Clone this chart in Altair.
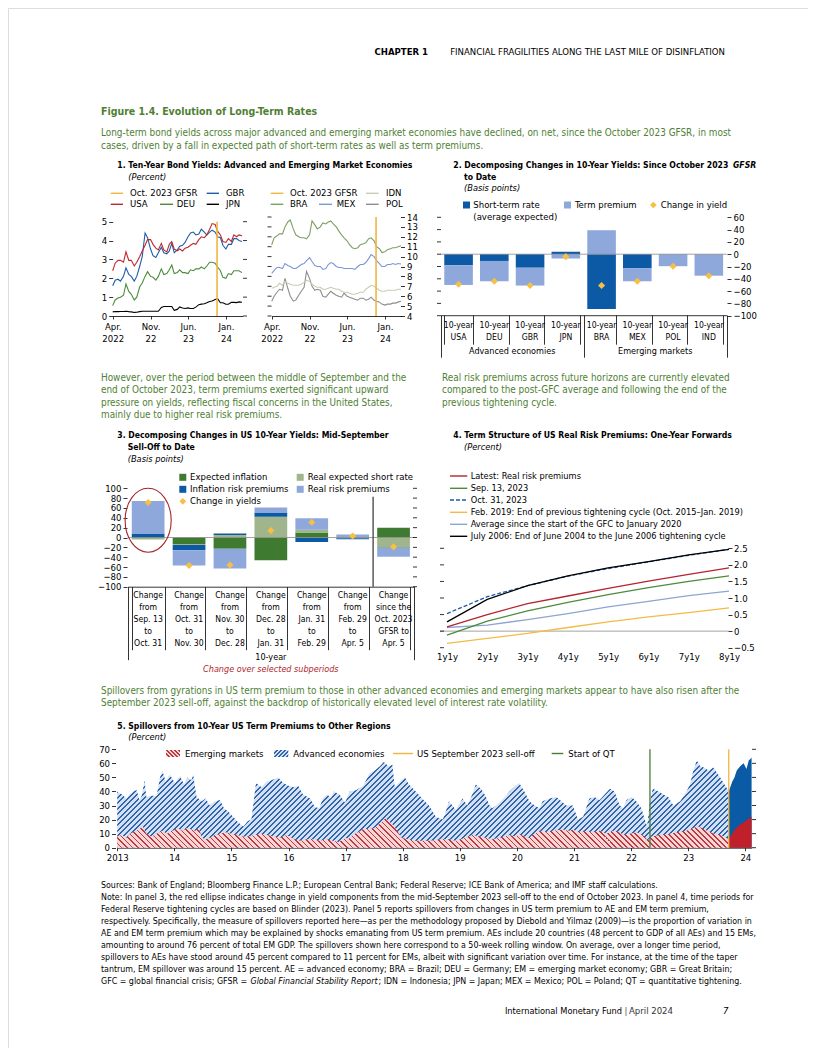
import altair as alt
import pandas as pd

W, H = 800, 1040


def cx(x):
    return x - 8


def cy(y):
    return y - 8


FONT = "DejaVu Sans Condensed, Liberation Sans Narrow, Arial Narrow, sans-serif"
BLACK = "#000000"
GREEN_TXT = "#4f7f35"
DARKBLUE = "#0c5aa6"
LIGHTBLUE = "#8fa8dc"
YELLOW = "#f5c044"
GOLD = "#f2b441"
ZERO_GREY = "#8c8c8c"
TITLE_SIZE = 8.6

# ======================= DATA =======================
# Panel 1: observation dates (1st and 15th of each month, Apr 2022 - Apr 2024)
p1_dates = []
for yr in (2022, 2023, 2024):
    for mo in range(1, 13):
        if (yr == 2022 and mo < 4) or (yr == 2024 and mo > 3):
            continue
        p1_dates += [f"{yr}-{mo:02d}-01T00:00:00", f"{yr}-{mo:02d}-15T00:00:00"]
p1_dates.append("2024-04-01T00:00:00")

usa = [2.40, 2.80, 2.95, 2.95, 2.85, 3.40, 2.95, 2.95, 2.65, 2.85, 3.15, 3.45, 3.75, 4.05, 4.05, 3.80, 3.60, 3.50,
       3.85, 3.50, 3.40, 3.80, 3.95, 3.55, 3.45, 3.55, 3.45, 3.60, 3.65, 3.75, 3.85, 3.80, 4.05, 4.20, 4.15, 4.30,
       4.60, 4.90, 4.85, 4.50, 4.30, 3.95,
       3.90, 4.10, 3.95, 4.30, 4.20, 4.30, 4.25]
gbr = [1.60, 1.90, 1.95, 1.85, 2.10, 2.55, 2.20, 2.10, 1.85, 2.10, 2.65, 3.15, 4.40, 4.15, 3.55, 3.20, 3.10, 3.35,
       3.65, 3.35, 3.30, 3.45, 3.85, 3.35, 3.50, 3.70, 3.75, 3.90, 4.20, 4.40, 4.45, 4.30, 4.35, 4.60, 4.45, 4.30,
       4.45, 4.55, 4.45, 4.20, 4.15, 3.75,
       3.55, 3.80, 3.80, 4.10, 4.10, 4.00, 3.95]
deu = [0.55, 0.85, 0.95, 1.00, 1.10, 1.70, 1.30, 1.15, 0.85, 1.00, 1.55, 1.75, 2.10, 2.35, 2.10, 2.05, 1.90, 2.10,
       2.50, 2.20, 2.25, 2.45, 2.70, 2.25, 2.30, 2.45, 2.30, 2.30, 2.25, 2.45, 2.40, 2.50, 2.50, 2.60, 2.50, 2.65,
       2.85, 2.85, 2.80, 2.60, 2.40, 2.05,
       2.00, 2.25, 2.20, 2.40, 2.40, 2.40, 2.30]
jpn = [0.22, 0.24, 0.23, 0.24, 0.24, 0.25, 0.23, 0.22, 0.19, 0.20, 0.23, 0.25, 0.25, 0.25, 0.25, 0.25, 0.25, 0.25,
       0.45, 0.50, 0.50, 0.50, 0.50, 0.30, 0.35, 0.48, 0.42, 0.40, 0.43, 0.40, 0.40, 0.47, 0.60, 0.63, 0.65, 0.70,
       0.77, 0.80, 0.88, 0.92, 0.70, 0.70,
       0.62, 0.62, 0.73, 0.72, 0.71, 0.75, 0.73]
bra = [11.2, 11.9, 12.1, 12.3, 12.3, 13.0, 13.5, 13.7, 12.8, 12.2, 12.0, 11.9, 11.9, 11.8, 12.2, 13.6, 13.2, 12.8,
       13.0, 13.4, 13.3, 13.5, 13.6, 13.3, 13.0, 12.6, 12.2, 11.9, 11.6, 11.2, 10.9, 10.8, 10.9, 11.2, 11.3, 11.4,
       11.8, 11.9, 11.6, 11.0, 10.8, 10.4,
       10.5, 10.7, 10.8, 10.9, 10.9, 11.0, 11.1]
mex = [8.3, 8.6, 8.9, 8.9, 8.8, 9.3, 9.1, 9.0, 8.8, 8.8, 9.0, 9.2, 9.3, 9.6, 9.9, 9.5, 9.1, 9.0,
       9.0, 8.7, 8.8, 9.2, 9.4, 9.3, 9.0, 8.9, 8.9, 8.8, 8.8, 8.8, 8.8, 8.7, 9.0, 9.2, 9.2, 9.4,
       9.8, 10.2, 10.0, 9.6, 9.3, 9.0,
       9.0, 9.2, 9.2, 9.3, 9.2, 9.3, 9.25]
idn = [6.8, 6.9, 7.0, 7.3, 7.1, 7.5, 7.3, 7.2, 7.1, 7.1, 7.1, 7.2, 7.4, 7.6, 7.5, 7.2, 7.0, 6.9,
       6.9, 6.7, 6.7, 6.8, 6.9, 6.8, 6.7, 6.7, 6.5, 6.4, 6.4, 6.3, 6.2, 6.2, 6.3, 6.4, 6.4, 6.7,
       6.9, 7.1, 7.0, 6.8, 6.6, 6.5,
       6.5, 6.6, 6.6, 6.6, 6.6, 6.7, 6.7]
pol = [5.5, 6.0, 6.4, 6.7, 6.6, 7.8, 6.8, 6.0, 5.5, 5.6, 6.1, 6.5, 6.9, 8.5, 7.8, 7.0, 6.6, 6.7,
       6.6, 6.0, 5.9, 6.2, 6.5, 6.3, 6.1, 6.0, 5.9, 6.3, 6.0, 5.9, 5.8, 5.7, 5.6, 5.8, 5.8, 5.6,
       5.7, 5.9, 5.6, 5.5, 5.4, 5.2,
       5.1, 5.2, 5.2, 5.3, 5.3, 5.4, 5.5]
gfsr_date = "2023-11-12T00:00:00"

# Panel 2
cats2 = ["USA", "DEU", "GBR", "JPN", "BRA", "MEX", "POL", "IND"]
short2 = [-18, -11, -22, 4, -89, -23, 0, 0]
term2 = [-32, -33, -29, -7, 39, -21, -19.5, -35]
chg2 = [-49, -44, -51, -4, -51, -44, -19.5, -35]
groups2 = ["Advanced economies", "Emerging markets"]
ticks2 = [-100, -80, -60, -40, -20, 0, 20, 40, 60]

# Panel 3
cats3 = ["Change|from|Sep. 13|to|Oct. 31", "Change|from|Oct. 31|to|Nov. 30", "Change|from|Nov. 30|to|Dec. 28",
         "Change|from|Dec. 28|to|Jan. 31", "Change|from|Jan. 31|to|Feb. 29", "Change|from|Feb. 29|to|Apr. 5",
         "Change|since the|Oct. 2023|GFSR to|Apr. 5"]
comp3 = ["Expected inflation", "Real expected short rate", "Inflation risk premiums", "Real risk premiums"]
exp_infl = [-1, -13, -23, -46, 10, 1, 20]
real_short = [-3, -2, 5, 42, 6, -1.5, -21]
infl_risk = [8, -11, 3, 9, -9, -2, -1.5]
real_risk = [66, -31, -40, 10, 23, 5, -16.5]
chg3 = [71, -57, -56, 14, 31, 3, -19]
ticks3 = [-100, -80, -60, -40, -20, 0, 20, 40, 60, 80, 100]

# Panel 4
hor4 = ["1y1y", "2y1y", "3y1y", "4y1y", "5y1y", "6y1y", "7y1y", "8y1y"]
latest4 = [0.13, 0.50, 0.83, 1.06, 1.29, 1.51, 1.71, 1.91]
sep13_4 = [-0.12, 0.30, 0.61, 0.87, 1.10, 1.31, 1.50, 1.67]
oct31_4 = [0.53, 1.04, 1.37, 1.66, 1.89, 2.09, 2.29, 2.47]
feb2019_4 = [-0.37, -0.22, -0.07, 0.11, 0.28, 0.43, 0.56, 0.70]
avg_gfc4 = [0.11, 0.18, 0.35, 0.53, 0.73, 0.90, 1.07, 1.21]
jul2006_4 = [0.28, 0.96, 1.37, 1.67, 1.91, 2.10, 2.30, 2.47]
ticks4 = [-0.5, 0, 0.5, 1.0, 1.5, 2.0, 2.5]

# Panel 5 (decimal year, percent)
ae_pts = [(2013.00, 40), (2013.08, 38), (2013.16, 35), (2013.22, 38), (2013.28, 40), (2013.34, 41), (2013.39, 34),
          (2013.43, 37), (2013.48, 48), (2013.51, 36), (2013.60, 37), (2013.69, 37), (2013.75, 50), (2013.79, 55),
          (2013.85, 47), (2013.92, 52), (2014.01, 46), (2014.10, 51), (2014.17, 45), (2014.23, 50), (2014.30, 48),
          (2014.33, 52), (2014.39, 36), (2014.48, 33), (2014.55, 35), (2014.62, 30), (2014.71, 33), (2014.80, 34),
          (2014.87, 28), (2014.94, 26), (2015.03, 22), (2015.12, 18), (2015.21, 15), (2015.29, 19), (2015.35, 20),
          (2015.43, 46), (2015.53, 43), (2015.62, 47), (2015.70, 48), (2015.82, 50), (2015.91, 46), (2016.00, 44),
          (2016.09, 43), (2016.17, 44), (2016.25, 38), (2016.38, 35), (2016.46, 29), (2016.54, 28), (2016.60, 35),
          (2016.68, 38), (2016.74, 35), (2016.79, 40), (2016.89, 38), (2016.99, 32), (2017.07, 40), (2017.19, 41),
          (2017.31, 44), (2017.42, 53), (2017.51, 55), (2017.60, 58), (2017.67, 61), (2017.75, 58), (2017.82, 59),
          (2017.86, 43), (2017.95, 47), (2018.04, 50), (2018.11, 45), (2018.23, 40), (2018.34, 35), (2018.46, 30),
          (2018.58, 22), (2018.70, 20), (2018.75, 25), (2018.81, 33), (2018.87, 30), (2018.93, 27), (2019.05, 35),
          (2019.13, 30), (2019.22, 38), (2019.28, 45), (2019.37, 42), (2019.45, 37), (2019.52, 30), (2019.57, 28),
          (2019.64, 30), (2019.72, 33), (2019.81, 37), (2019.87, 40), (2019.98, 44), (2020.04, 46), (2020.13, 40),
          (2020.22, 33), (2020.31, 30), (2020.40, 28), (2020.45, 33), (2020.57, 35), (2020.69, 36), (2020.78, 33),
          (2020.86, 30), (2020.98, 30), (2021.07, 20), (2021.16, 22), (2021.27, 35), (2021.36, 36), (2021.45, 34),
          (2021.54, 38), (2021.63, 42), (2021.71, 40), (2021.80, 30), (2021.86, 28), (2021.92, 34), (2022.01, 36),
          (2022.09, 33), (2022.18, 28), (2022.24, 20), (2022.28, 15), (2022.33, 33), (2022.38, 42), (2022.48, 40),
          (2022.56, 38), (2022.65, 36), (2022.74, 30), (2022.86, 33), (2022.97, 40), (2023.03, 45), (2023.09, 55),
          (2023.15, 62), (2023.21, 58), (2023.27, 57), (2023.36, 55), (2023.44, 57), (2023.56, 50), (2023.65, 44),
          (2023.71, 40), (2023.77, 47), (2023.81, 50), (2023.85, 55), (2023.91, 58), (2023.97, 60), (2024.02, 56),
          (2024.06, 62), (2024.11, 64)]
em_pts = [(2013.00, 8), (2013.08, 9), (2013.16, 7), (2013.22, 10), (2013.34, 12), (2013.45, 15), (2013.51, 10),
          (2013.60, 8), (2013.69, 10), (2013.79, 12), (2013.87, 10), (2013.97, 12), (2014.06, 14), (2014.14, 12),
          (2014.22, 14), (2014.30, 13), (2014.37, 12), (2014.43, 14), (2014.48, 7), (2014.55, 6), (2014.62, 7),
          (2014.71, 9), (2014.80, 10), (2014.90, 11), (2015.00, 10), (2015.10, 9), (2015.20, 8), (2015.30, 8),
          (2015.40, 9), (2015.52, 10), (2015.62, 9), (2015.75, 8), (2015.85, 7), (2015.97, 9), (2016.10, 6),
          (2016.20, 5), (2016.32, 6), (2016.45, 6), (2016.55, 5), (2016.65, 6), (2016.78, 5), (2016.88, 4),
          (2017.00, 7), (2017.05, 6), (2017.12, 9), (2017.27, 12), (2017.32, 14), (2017.40, 13), (2017.50, 14),
          (2017.60, 17), (2017.70, 21), (2017.78, 18), (2017.84, 16), (2017.98, 7), (2018.10, 6), (2018.23, 5),
          (2018.46, 5), (2018.70, 6), (2018.80, 6), (2018.93, 5), (2019.10, 7), (2019.22, 9), (2019.35, 8),
          (2019.45, 7), (2019.57, 6), (2019.69, 7), (2019.87, 9), (2019.98, 8), (2020.04, 10), (2020.13, 8),
          (2020.22, 7), (2020.27, 9), (2020.40, 12), (2020.51, 11), (2020.63, 12), (2020.81, 13), (2020.92, 12),
          (2020.98, 13), (2021.07, 11), (2021.16, 12), (2021.33, 11), (2021.45, 12), (2021.57, 10), (2021.68, 12),
          (2021.80, 11), (2021.86, 9), (2021.98, 10), (2022.10, 11), (2022.24, 8), (2022.28, 5), (2022.36, 8),
          (2022.50, 9), (2022.68, 10), (2022.80, 11), (2022.97, 12), (2023.09, 14), (2023.18, 15), (2023.33, 12),
          (2023.45, 10), (2023.56, 9), (2023.67, 7), (2023.71, 6), (2023.74, 8), (2023.80, 12), (2023.89, 16),
          (2023.97, 18), (2024.04, 20), (2024.11, 22)]
SELLOFF = 2023.71
QT_START = 2022.33
years5 = list(range(2013, 2025))
ticks5 = [0, 10, 20, 30, 40, 50, 60, 70]

# ======================= HELPERS =======================
layers = []


def txt(t, x, y, size=9.5, weight="normal", style="normal", color=BLACK, align="left", font=FONT):
    return alt.Chart(pd.DataFrame({"t": [t]})).mark_text(
        align=align, baseline="middle", fontSize=size, fontWeight=weight, fontStyle=style,
        color=color, font=font).encode(x=alt.value(cx(x)), y=alt.value(cy(y)), text="t:N")


def para(lines, x, y0, dy, **kw):
    for i, line in enumerate(lines):
        layers.append(txt(line, x, y0 + i * dy, **kw))


def leg_line(x0, x1, y, color, dash=None, width=1.4):
    mk = dict(color=color, strokeWidth=width)
    if dash:
        mk["strokeDash"] = dash
    return alt.Chart(pd.DataFrame({"a": [0]})).mark_rule(**mk).encode(
        x=alt.value(cx(x0)), x2=alt.value(cx(x1)), y=alt.value(cy(y)))


def leg_rect(x0, x1, y0, y1, color):
    return alt.Chart(pd.DataFrame({"a": [0]})).mark_rect(color=color).encode(
        x=alt.value(cx(x0)), x2=alt.value(cx(x1)), y=alt.value(cy(y0)), y2=alt.value(cy(y1)))


def leg_diamond(x, y, color, size=45):
    return alt.Chart(pd.DataFrame({"a": [0]})).mark_point(
        shape="diamond", filled=True, color=color, size=size, opacity=1).encode(
        x=alt.value(cx(x)), y=alt.value(cy(y)))


def ax(**kw):
    base = dict(title=None, grid=False, labelFont=FONT, labelFontSize=9.5, labelColor=BLACK,
                tickColor=BLACK, domainColor=BLACK, tickWidth=0.8, domainWidth=0.8, labelPadding=2,
                labelFlush=False, labelOverlap=False, labelBound=False, labelAngle=0)
    base.update(kw)
    return alt.Axis(**base)


def mirror_ticks(vals, yscale, x0, x1):
    return alt.Chart(pd.DataFrame({"v": vals})).mark_rule(color=BLACK, strokeWidth=0.8).encode(
        y=alt.Y("v:Q", scale=yscale, axis=None), x=alt.value(cx(x0)), x2=alt.value(cx(x1)))


def hzero(yscale, x0, x1, color=ZERO_GREY):
    return alt.Chart(pd.DataFrame({"v": [0]})).mark_rule(color=color, strokeWidth=0.8).encode(
        y=alt.Y("v:Q", scale=yscale, axis=None), x=alt.value(cx(x0)), x2=alt.value(cx(x1)))


def hatch(w_px, h_px, light, dark, rising=True, period=5.5, frac_dark=0.36):
    """Diagonal hatch fill built as a hard-stop linear gradient over the mark's bounding box."""
    r = h_px / w_px
    k = 1 + r
    tp = period / (w_px * k * (1 + r * r))
    stops = []
    o = 0.0
    while o < 1.0:
        a = round(min(o + tp * (1 - frac_dark), 1.0), 6)
        b = round(min(o + tp, 1.0), 6)
        stops += [alt.GradientStop(color=light, offset=round(o, 6)), alt.GradientStop(color=light, offset=a),
                  alt.GradientStop(color=dark, offset=a), alt.GradientStop(color=dark, offset=b)]
        o = b
    if rising:
        return alt.LinearGradient(gradient="linear", stops=stops, x1=0, y1=0, x2=k, y2=k * r)
    return alt.LinearGradient(gradient="linear", stops=stops, x1=0, y1=1, x2=k, y2=1 - k * r)


# ======================= HEADER / TEXT =======================
layers.append(txt("CHAPTER 1", 428, 52, size=9.5, weight="bold", align="right"))
layers.append(txt("FINANCIAL FRAGILITIES ALONG THE LAST MILE OF DISINFLATION", 725, 52, size=9.5, align="right"))
layers.append(txt("Figure 1.4. Evolution of Long-Term Rates", 101, 111.5, size=10.5, weight="bold", color=GREEN_TXT))
para(["Long-term bond yields across major advanced and emerging market economies have declined, on net, since the October 2023 GFSR, in most",
      "cases, driven by a fall in expected path of short-term rates as well as term premiums."],
     101, 133, 13, size=9.9, color=GREEN_TXT)
para(["However, over the period between the middle of September and the",
      "end of October 2023, term premiums exerted significant upward",
      "pressure on yields, reflecting fiscal concerns in the United States,",
      "mainly due to higher real risk premiums."], 101, 377.5, 12.5, size=9.9, color=GREEN_TXT)
para(["Real risk premiums across future horizons are currently elevated",
      "compared to the post-GFC average and following the end of the",
      "previous tightening cycle."], 442, 377.5, 12.5, size=9.9, color=GREEN_TXT)
para(["Spillovers from gyrations in US term premium to those in other advanced economies and emerging markets appear to have also risen after the",
      "September 2023 sell-off, against the backdrop of historically elevated level of interest rate volatility."],
     101, 690.5, 12.5, size=9.9, color=GREEN_TXT)

notes = ["Sources: Bank of England; Bloomberg Finance L.P.; European Central Bank; Federal Reserve; ICE Bank of America; and IMF staff calculations.",
         "Note: In panel 3, the red ellipse indicates change in yield components from the mid-September 2023 sell-off to the end of October 2023. In panel 4, time periods for",
         "Federal Reserve tightening cycles are based on Blinder (2023). Panel 5 reports spillovers from changes in US term premium to AE and EM term premium,",
         "respectively. Specifically, the measure of spillovers reported here\u2014as per the methodology proposed by Diebold and Yilmaz (2009)\u2014is the proportion of variation in",
         "AE and EM term premium which may be explained by shocks emanating from US term premium. AEs include 20 countries (48 percent to GDP of all AEs) and 15 EMs,",
         "amounting to around 76 percent of total EM GDP. The spillovers shown here correspond to a 50-week rolling window. On average, over a longer time period,",
         "spillovers to AEs have stood around 45 percent compared to 11 percent for EMs, albeit with significant variation over time. For instance, at the time of the taper",
         "tantrum, EM spillover was around 15 percent. AE = advanced economy; BRA = Brazil; DEU = Germany; EM = emerging market economy; GBR = Great Britain;"]
para(notes, 101, 884.5, 12, size=8.8)
layers.append(txt("GFC = global financial crisis; GFSR = ", 101, 980.5, size=8.8))
layers.append(txt("Global Financial Stability Report", 250.5, 980.5, size=8.8, style="italic"))
layers.append(txt("; IDN = Indonesia; JPN = Japan; MEX = Mexico; POL = Poland; QT = quantitative tightening.", 378.5, 980.5, size=8.8))

layers.append(txt("International Monetary Fund", 622, 1011, size=9.2, align="right"))
layers.append(txt("|", 624.5, 1011, size=9.5, color="#555555"))
layers.append(txt("April 2024", 629, 1011, size=9.5, color="#333333"))
layers.append(txt("7", 723, 1011, size=9.5, style="italic"))

# ======================= PANEL 1 =======================
layers.append(txt("1. Ten-Year Bond Yields: Advanced and Emerging Market Economies", 117.3, 165, size=TITLE_SIZE, weight="bold"))
layers.append(txt("(Percent)", 128.3, 176.5, size=9.2, style="italic"))

C_USA, C_GBR, C_DEU, C_JPN = "#c1272d", "#1d5ea8", "#4b8b3b", "#000000"
C_BRA, C_MEX, C_IDN, C_POL = "#7f9f63", "#7b97d6", "#c5ceb3", "#8e8e8e"

# legends
for (x0, x1, y, col, lab, tx) in [
        (110.7, 123, 193.3, GOLD, "Oct. 2023 GFSR", 130), (206.7, 219, 193.3, C_GBR, "GBR", 226),
        (110.7, 123, 204.3, C_USA, "USA", 130), (160, 173, 204.3, C_DEU, "DEU", 176.7),
        (206.7, 219, 204.3, C_JPN, "JPN", 226),
        (270.7, 283.3, 193.3, GOLD, "Oct. 2023 GFSR", 290), (366, 378.7, 193.3, C_IDN, "IDN", 386),
        (270.7, 283.3, 204.3, C_BRA, "BRA", 290), (319, 332, 204.3, C_MEX, "MEX", 336.7),
        (366, 378.7, 204.3, C_POL, "POL", 386)]:
    layers.append(leg_line(x0, x1, y, col))
    layers.append(txt(lab, tx, y, size=9.5))


def dt(y, m, d):
    return alt.DateTime(year=y, month=m, date=d)


xdom1 = [dt(2022, 4, 1), dt(2024, 4, 5)]
mticks = [dt(2022, 4, 1), dt(2022, 11, 1), dt(2023, 6, 1), dt(2024, 1, 1)]
LBL1 = ("[timeFormat(datum.value, '%b') + '.', (year(datum.value) == 2022 && month(datum.value) == 3) "
        "? '2022' : timeFormat(datum.value, '%y')]")

for (xr, yscale, series, vals, cols, yaxis, mt, tvals) in [
    ([112.7, 242.7], alt.Scale(domain=[0, 5], range=[cy(316), cy(221.7)], nice=False, zero=False),
     ["JPN", "DEU", "GBR", "USA"], {"USA": usa, "GBR": gbr, "DEU": deu, "JPN": jpn},
     {"USA": C_USA, "GBR": C_GBR, "DEU": C_DEU, "JPN": C_JPN},
     ax(orient="left", offset=-cx(112.7), values=[0, 1, 2, 3, 4, 5], tickSize=4, domain=False, format="d"),
     (243, 247), [0, 1, 2, 3, 4, 5]),
    ([271.7, 401.7], alt.Scale(domain=[4, 14], range=[cy(316), cy(217)], nice=False, zero=False),
     ["POL", "IDN", "MEX", "BRA"], {"BRA": bra, "MEX": mex, "IDN": idn, "POL": pol},
     {"BRA": C_BRA, "MEX": C_MEX, "IDN": C_IDN, "POL": C_POL},
     ax(orient="right", offset=cx(400.5) - W, values=list(range(4, 15)), tickSize=4, domain=False, format="d"),
     (267.5, 271.5), list(range(4, 15))),
]:
    xscale = alt.Scale(type="time", domain=xdom1, range=[cx(xr[0]), cx(xr[1])], nice=False)
    df = pd.DataFrame([{"date": d, "series": s, "value": v}
                       for s in series for d, v in zip(p1_dates, vals[s])])
    layers.append(alt.Chart(df).mark_line(strokeWidth=1.1).encode(
        x=alt.X("date:T", scale=xscale,
                axis=ax(orient="bottom", offset=cy(316) - H, values=mticks, labelExpr=LBL1,
                        tickSize=3, labelLineHeight=12.5, labelPadding=2)),
        y=alt.Y("value:Q", scale=yscale, axis=yaxis),
        color=alt.Color("series:N", scale=alt.Scale(domain=series, range=[cols[s] for s in series]), legend=None),
        detail="series:N"))
    layers.append(alt.Chart(pd.DataFrame({"d": [gfsr_date], "y0": [tvals[0]], "y1": [tvals[-1]]}))
                  .mark_rule(color=GOLD, strokeWidth=1.6).encode(
        x=alt.X("d:T", scale=xscale, axis=None), y=alt.Y("y0:Q", scale=yscale, axis=None), y2="y1:Q"))
    layers.append(mirror_ticks(tvals, yscale, mt[0], mt[1]))

# ======================= PANEL 2 =======================
layers.append(txt("2. Decomposing Changes in 10-Year Yields: Since October 2023", 453.3, 165, size=TITLE_SIZE, weight="bold"))
layers.append(txt("GFSR", 733, 165, size=TITLE_SIZE, weight="bold", style="italic"))
layers.append(txt("to Date", 464, 176.5, size=TITLE_SIZE, weight="bold"))
layers.append(txt("(Basis points)", 464, 188.3, size=9.2, style="italic"))
layers.append(leg_rect(463, 470, 201.5, 208.5, DARKBLUE))
layers.append(txt("Short-term rate", 473.3, 205, size=9.5))
layers.append(txt("(average expected)", 473.3, 217.3, size=9.5))
layers.append(leg_rect(564, 571, 201.5, 208.5, LIGHTBLUE))
layers.append(txt("Term premium", 575, 205, size=9.5))
layers.append(leg_diamond(653.3, 205, YELLOW))
layers.append(txt("Change in yield", 660.7, 205, size=9.5))

xs2 = alt.Scale(type="band", domain=cats2, range=[cx(440.7), cx(726.7)], paddingInner=0.2, paddingOuter=0.1)
ys2 = alt.Scale(domain=[-100, 60], range=[cy(315.7), cy(217.3)], nice=False, zero=False)
AX2_Y = cy(315.2) - H
df2 = pd.DataFrame({"cat": cats2 * 2, "comp": ["Short-term rate"] * 8 + ["Term premium"] * 8,
                    "value": short2 + term2, "ord": [1] * 8 + [2] * 8})
layers.append(alt.Chart(df2).mark_bar().encode(
    x=alt.X("cat:N", scale=xs2, axis=ax(orient="bottom", offset=AX2_Y, tickBand="extent", tickSize=29,
                                        labels=False, domain=True)),
    y=alt.Y("value:Q", scale=ys2, stack="zero",
            axis=ax(orient="right", offset=cx(727) - W, values=ticks2, tickSize=4, domain=False)),
    color=alt.Color("comp:N", scale=alt.Scale(domain=["Short-term rate", "Term premium"],
                                              range=[DARKBLUE, LIGHTBLUE]), legend=None),
    order=alt.Order("ord:Q")))
layers.append(hzero(ys2, 440.7, 726.7))
layers.append(alt.Chart(pd.DataFrame({"cat": cats2, "chg": chg2})).mark_point(
    shape="diamond", filled=True, size=50, color=YELLOW, opacity=1).encode(
    x=alt.X("cat:N", scale=xs2, axis=ax(orient="bottom", offset=AX2_Y, ticks=False, domain=False,
                                        labelPadding=5, labelExpr="['10-year', datum.label]",
                                        labelLineHeight=12.6, labelFontSize=8.6)),
    y=alt.Y("chg:Q", scale=ys2, axis=None)))
gs2 = alt.Scale(type="band", domain=groups2, range=[cx(440.7), cx(726.7)], paddingInner=0, paddingOuter=0)
layers.append(alt.Chart(pd.DataFrame({"g": groups2})).mark_text(font=FONT, fontSize=9, baseline="middle").encode(
    x=alt.X("g:N", scale=gs2, axis=ax(orient="bottom", offset=AX2_Y, tickBand="extent", tickSize=42,
                                      labels=False, domain=False)),
    y=alt.value(cy(350.5)), text="g:N"))
layers.append(mirror_ticks(ticks2, ys2, 437, 441))

# ======================= PANEL 3 =======================
layers.append(txt("3. Decomposing Changes in US 10-Year Yields: Mid-September", 117.3, 435.3, size=TITLE_SIZE, weight="bold"))
layers.append(txt("Sell-Off to Date", 127.7, 446.7, size=TITLE_SIZE, weight="bold"))
layers.append(txt("(Basis points)", 127.7, 459.3, size=9.2, style="italic"))
C3 = ["#3e7a30", "#a0b58c", DARKBLUE, LIGHTBLUE]
layers.append(leg_rect(179.3, 186.3, 473.8, 480.8, C3[0]))
layers.append(txt("Expected inflation", 190, 477.3))
layers.append(leg_rect(179.3, 186.3, 485.8, 492.8, C3[2]))
layers.append(txt("Inflation risk premiums", 190, 489.3))
layers.append(leg_diamond(182.8, 501.3, YELLOW))
layers.append(txt("Change in yields", 190, 501.3))
layers.append(leg_rect(296.7, 303.7, 473.8, 480.8, C3[1]))
layers.append(txt("Real expected short rate", 307.7, 477.3))
layers.append(leg_rect(296.7, 303.7, 485.8, 492.8, C3[3]))
layers.append(txt("Real risk premiums", 307.7, 489.3))

xs3 = alt.Scale(type="band", domain=cats3, range=[cx(127.7), cx(414)], paddingInner=0.2, paddingOuter=0.1)
ys3 = alt.Scale(domain=[-100, 100], range=[cy(586.7), cy(488.3)], nice=False, zero=False)
AX3_Y = cy(586.7) - H
rows3 = []
for k, (name, vals) in enumerate(zip(comp3, [exp_infl, real_short, infl_risk, real_risk])):
    for c, v in zip(cats3, vals):
        rows3.append({"cat": c, "comp": name, "value": v, "ord": k})
layers.append(alt.Chart(pd.DataFrame(rows3)).mark_bar().encode(
    x=alt.X("cat:N", scale=xs3, axis=ax(orient="bottom", offset=AX3_Y, tickBand="extent", tickSize=63,
                                        labels=False, domain=True)),
    y=alt.Y("value:Q", scale=ys3, stack="zero",
            axis=ax(orient="left", offset=-cx(127), values=ticks3, tickSize=4, domain=False)),
    color=alt.Color("comp:N", scale=alt.Scale(domain=comp3, range=C3), legend=None),
    order=alt.Order("ord:Q")))
layers.append(hzero(ys3, 127.7, 414))
layers.append(alt.Chart(pd.DataFrame({"cat": cats3, "chg": chg3})).mark_point(
    shape="diamond", filled=True, size=50, color=YELLOW, opacity=1).encode(
    x=alt.X("cat:N", scale=xs3, axis=ax(orient="bottom", offset=AX3_Y, ticks=False, domain=False,
                                        labelPadding=4, labelExpr="split(datum.label, '|')",
                                        labelLineHeight=12, labelFontSize=8.6)),
    y=alt.Y("chg:Q", scale=ys3, axis=None)))
xs3n = alt.Scale(type="band", domain=cats3, range=[cx(127.7), cx(414)], paddingInner=0, paddingOuter=0)
layers.append(alt.Chart(pd.DataFrame({"cat": [cats3[6]], "y0": [83], "y1": [-100]})).mark_rule(
    color="#333333", strokeWidth=1.2).encode(
    x=alt.X("cat:N", scale=xs3n, bandPosition=0, axis=None),
    y=alt.Y("y0:Q", scale=ys3, axis=None), y2="y1:Q"))
gs3 = alt.Scale(type="band", domain=["10-year"], range=[cx(127.7), cx(414)], paddingInner=0, paddingOuter=0)
layers.append(alt.Chart(pd.DataFrame({"g": ["10-year"]})).mark_text(font=FONT, fontSize=9, baseline="middle").encode(
    x=alt.X("g:N", scale=gs3, axis=ax(orient="bottom", offset=AX3_Y, tickBand="extent", tickSize=73,
                                      labels=False, domain=False)),
    y=alt.value(cy(657.3)), text="g:N"))
layers.append(alt.Chart(pd.DataFrame({"g": ["10-year"], "t": ["Change over selected subperiods"]})).mark_text(
    font=FONT, fontSize=9, fontStyle="italic", color="#b0282e", baseline="middle").encode(
    x=alt.X("g:N", scale=gs3, axis=None), y=alt.value(cy(668.5)), text="t:N"))
layers.append(mirror_ticks(ticks3, ys3, 413, 417))
ELLIPSE = "M -0.72 0 A 0.72 1 0 1 0 0.72 0 A 0.72 1 0 1 0 -0.72 0 Z"
layers.append(alt.Chart(pd.DataFrame({"cat": [cats3[0]], "v": [35]})).mark_point(
    shape=ELLIPSE, size=4096, filled=False, color="#a3262a", strokeWidth=1.1, opacity=1).encode(
    x=alt.X("cat:N", scale=xs3, axis=None), y=alt.Y("v:Q", scale=ys3, axis=None)))

# ======================= PANEL 4 =======================
layers.append(txt("4. Term Structure of US Real Risk Premiums: One-Year Forwards", 453.3, 435.3, size=TITLE_SIZE, weight="bold"))
layers.append(txt("(Percent)", 464, 447.3, size=9.2, style="italic"))
C4 = {"Latest: Real risk premiums": "#b5232f", "Sep. 13, 2023": "#4b8b3b", "Oct. 31, 2023": "#1f5aa6",
      "Feb. 2019: End of previous tightening cycle (Oct. 2015\u2013Jan. 2019)": "#f3bb45",
      "Average since the start of the GFC to January 2020": "#8ea4d2",
      "July 2006: End of June 2004 to the June 2006 tightening cycle": "#000000"}
leg_y4 = [476, 488.3, 500, 512.3, 524.3, 536.3]
for (name, col), yy in zip(C4.items(), leg_y4):
    layers.append(leg_line(450, 467.3, yy, col, dash=[4, 2] if name.startswith("Oct.") else None))
    layers.append(txt(name, 470.7, yy, size=9.2))

xs4 = alt.Scale(type="point", domain=hor4, range=[cx(447), cx(729)], padding=0)
ys4 = alt.Scale(domain=[-0.5, 2.5], range=[cy(647.7), cy(548.3)], nice=False, zero=False)
layers.append(hzero(ys4, 440, 729))
df4d = pd.DataFrame({"h": hor4, "v": oct31_4})
layers.append(alt.Chart(df4d).mark_line(color=C4["Oct. 31, 2023"], strokeWidth=1.3, strokeDash=[4, 2]).encode(
    x=alt.X("h:N", scale=xs4, axis=ax(orient="bottom", offset=cy(647.7) - H, ticks=False, domain=False,
                                      labelPadding=4)),
    y=alt.Y("v:Q", scale=ys4, axis=ax(orient="right", offset=cx(728) - W, values=ticks4, tickSize=4,
                                      domain=False, labelPadding=1.5,
                                      labelExpr="datum.value == 0 ? '0' : format(datum.value, '.1f')"))))
solid4 = [("Average since the start of the GFC to January 2020", avg_gfc4),
          ("Feb. 2019: End of previous tightening cycle (Oct. 2015\u2013Jan. 2019)", feb2019_4),
          ("Sep. 13, 2023", sep13_4), ("Latest: Real risk premiums", latest4),
          ("July 2006: End of June 2004 to the June 2006 tightening cycle", jul2006_4)]
df4 = pd.DataFrame([{"h": h, "s": n, "v": v} for n, vals in solid4 for h, v in zip(hor4, vals)])
layers.append(alt.Chart(df4).mark_line(strokeWidth=1.3).encode(
    x=alt.X("h:N", scale=xs4, axis=None),
    y=alt.Y("v:Q", scale=ys4, axis=None),
    color=alt.Color("s:N", scale=alt.Scale(domain=[n for n, _ in solid4], range=[C4[n] for n, _ in solid4]),
                    legend=None),
    detail="s:N"))
layers.append(mirror_ticks(ticks4, ys4, 440, 444))

# ======================= PANEL 5 =======================
layers.append(txt("5. Spillovers from 10-Year US Term Premiums to Other Regions", 117.3, 725.5, size=TITLE_SIZE, weight="bold"))
layers.append(txt("(Percent)", 128.3, 737, size=9.2, style="italic"))
AE_LIGHT, AE_DARK, EM_LIGHT, EM_DARK = "#d3dff2", "#2f66ab", "#f7d5d5", "#bb3a41"
AE_S, EM_S = "#0a5aa5", "#c0202a"
layers.append(leg_rect(166, 180, 750, 757, hatch(14, 7, EM_LIGHT, EM_DARK, rising=False, period=4.0)))
layers.append(txt("Emerging markets", 185, 753.5))
layers.append(leg_rect(274, 288.3, 750, 757, hatch(14.3, 7, AE_LIGHT, AE_DARK, rising=True, period=4.0)))
layers.append(txt("Advanced economies", 293.3, 753.5))
layers.append(leg_line(393, 413, 753.5, GOLD))
layers.append(txt("US September 2023 sell-off", 417, 753.5))
layers.append(leg_line(551.7, 563.3, 753.5, "#4b7b35"))
layers.append(txt("Start of QT", 568.3, 753.5))

X5_0, X5_1, T5_0, T5_1 = 117.2, 751.6, 2013, 2024.11
Y5_0, Y5_1 = 847.7, 749.3
xs5 = alt.Scale(domain=[T5_0, T5_1], range=[cx(X5_0), cx(X5_1)], nice=False, zero=False)
ys5 = alt.Scale(domain=[0, 70], range=[cy(Y5_0), cy(Y5_1)], nice=False, zero=False)
PX_YEAR = (X5_1 - X5_0) / (T5_1 - T5_0)
PX_UNIT = (Y5_0 - Y5_1) / 70.0
ae_pre = pd.DataFrame([p for p in ae_pts if p[0] <= SELLOFF], columns=["t", "v"])
ae_post = pd.DataFrame([p for p in ae_pts if p[0] >= SELLOFF], columns=["t", "v"])
em_pre = pd.DataFrame([p for p in em_pts if p[0] <= SELLOFF], columns=["t", "v"])
em_post = pd.DataFrame([p for p in em_pts if p[0] >= SELLOFF], columns=["t", "v"])


def bbox_px(df):
    return (df["t"].max() - df["t"].min()) * PX_YEAR, df["v"].max() * PX_UNIT


ae_w, ae_h = bbox_px(ae_pre)
em_w, em_h = bbox_px(em_pre)
layers.append(alt.Chart(ae_pre).mark_area(color=hatch(ae_w, ae_h, AE_LIGHT, AE_DARK, rising=True), opacity=1).encode(
    x=alt.X("t:Q", scale=xs5, axis=ax(orient="bottom", offset=cy(Y5_0) - H, values=years5, tickSize=3,
                                      labelPadding=1.5,
                                      labelExpr="datum.value == 2013 ? '2013' : substring(toString(datum.value), 2, 4)")),
    y=alt.Y("v:Q", scale=ys5, axis=ax(orient="left", offset=-cx(115.5), values=ticks5, tickSize=4,
                                      domain=False, format="d"))))
layers.append(alt.Chart(ae_post).mark_area(color=AE_S, opacity=1).encode(
    x=alt.X("t:Q", scale=xs5, axis=None), y=alt.Y("v:Q", scale=ys5, axis=None)))
layers.append(alt.Chart(em_pre).mark_area(color=hatch(em_w, em_h, EM_LIGHT, EM_DARK, rising=False), opacity=1).encode(
    x=alt.X("t:Q", scale=xs5, axis=None), y=alt.Y("v:Q", scale=ys5, axis=None)))
layers.append(alt.Chart(em_post).mark_area(color=EM_S, opacity=1).encode(
    x=alt.X("t:Q", scale=xs5, axis=None), y=alt.Y("v:Q", scale=ys5, axis=None)))
for xv, col in [(QT_START, "#4b7b35"), (SELLOFF, GOLD)]:
    layers.append(alt.Chart(pd.DataFrame({"t": [xv], "y0": [0], "y1": [70]})).mark_rule(
        color=col, strokeWidth=1.3).encode(
        x=alt.X("t:Q", scale=xs5, axis=None), y=alt.Y("y0:Q", scale=ys5, axis=None), y2="y1:Q"))
layers.append(mirror_ticks(ticks5, ys5, 752, 756))

# ======================= ASSEMBLE =======================
chart = (alt.layer(*layers)
         .resolve_scale(x="independent", y="independent", color="independent")
         .resolve_axis(x="independent", y="independent")
         .properties(width=W, height=H, autosize=alt.AutoSizeParams(type="none"), padding=0)
         .configure_view(stroke=None)
         .configure(font=FONT))

chart.save("out.html", embed_options={"renderer": "svg", "actions": False})
